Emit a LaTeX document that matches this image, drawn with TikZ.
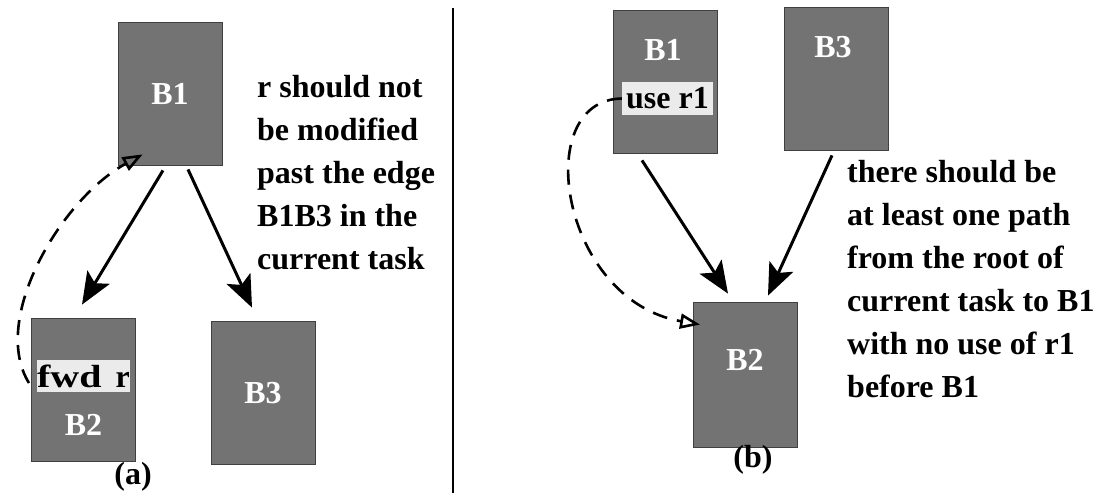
\documentclass[tikz,border=0pt]{standalone}
\usepackage{fontspec}
\setmainfont{Liberation Serif}
\usepackage{graphicx}
\usetikzlibrary{arrows.meta,calc}

\begin{document}
\begin{tikzpicture}[x=1pt,y=-1pt,every node/.style={font=\bfseries\fontsize{32}{43}\selectfont},block/.style={draw=black!75,line width=0.8pt,fill=black!55,minimum width=104pt,minimum height=143pt,inner sep=0pt},bname/.style={text=white,inner sep=0pt},tag/.style={fill=black!8,minimum width=92pt,minimum height=32pt,inner sep=0pt},note/.style={anchor=north west,align=left,inner sep=0pt},arrow/.style={-{Stealth[length=32pt,width=26pt,inset=7pt]},line width=3pt},dasharrow/.style={-{Triangle[open,length=20pt,width=15pt]},line width=2.6pt,dash pattern=on 15pt off 10pt}]
\useasboundingbox (0,0) rectangle (1101,493);

% (a)
\node[block,bname] (b1a) at (170,93.5) {B1};
\node[block] (b2a) at (83.5,389.5) {}; \node[bname] (b2name) at (83.5,425) {B2};
\node[tag] (fwd) at (83.5,376) {\scalebox{1.25}[1]{fwd}\hspace{14pt}r};
\node[block,bname] (b3a) at (263,393) {B3};
\draw[arrow] ($(b1a.south)+(-7,5)$) -- ($(b2a.north)+(-1.5,-13)$); \draw[arrow] ($(b1a.south)+(18,4)$) -- ($(b3a.north)+(-11,-13.5)$);
\draw[dasharrow] ($(fwd.west)+(-8,7)$) .. controls (-10,320) and (60,200) .. ($(b1a.south west)+(25,-11)$);
\node[note] (notea) at (257,75) {r should not\\be modified\\past the edge\\B1B3 in the\\current task};
\node (capa) at (133,477) {(a)};

\draw[line width=1.2pt] (453,8) -- (453,493);

% (b)
\node[block] (b1b) at (665.5,82) {}; \node[bname] (b1name) at (663,50) {B1};
\node[tag,minimum width=91pt,minimum height=33pt] (use) at (667.5,98.5) {use r1};
\node[block] (b3b) at (836.5,79) {}; \node[bname] (b3name) at (833,47) {B3};
\node[block,minimum height=145pt] (b2b) at (745.5,374.5) {}; \node[bname] (b2bname) at (745,360) {B2};
\draw[arrow] ($(b1b.south)+(-23.5,6.5)$) -- ($(b2b.north)+(-17.5,-8)$); \draw[arrow] ($(b3b.south)+(-4.5,4.5)$) -- ($(b2b.north)+(22.5,-6)$);
\draw[dasharrow] (use.west) .. controls (530,100) and (560,300) .. ($(b2b.north west)+(7,23)$);
\node[note] (noteb) at (847,160) {there should be\\at least one path\\from the root of\\current task to B1\\with no use of r1\\before B1};
\node (capb) at (753,460) {(b)};

\end{tikzpicture}
\end{document}
